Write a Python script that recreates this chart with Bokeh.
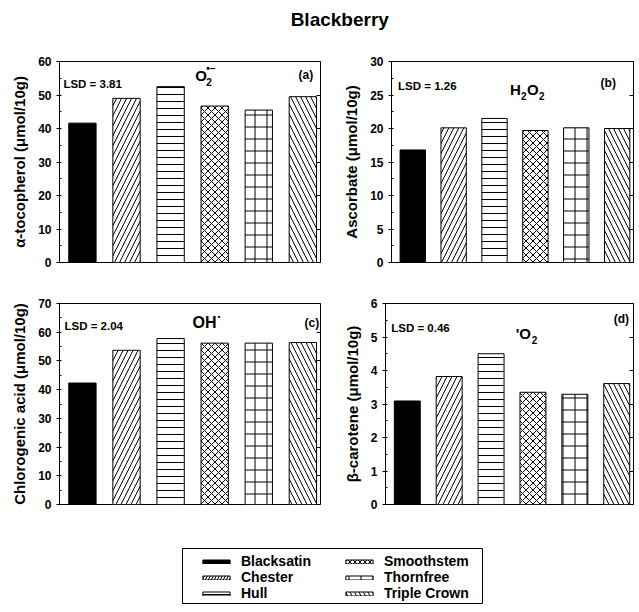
from bokeh.plotting import figure
from bokeh.models import (ColumnDataSource, Range1d, LinearAxis, SingleIntervalTicker,
                          Label, Legend, LegendItem, Spacer, CustomJSTickFormatter)
from bokeh.layouts import row, column
from bokeh.core.properties import field
from bokeh.embed import file_html
from bokeh.resources import INLINE

# ---------------- data ----------------
cultivars = ["Blacksatin", "Chester", "Hull", "Smoothstem", "Thornfree", "Triple Crown"]
tocopherol = [41.6, 49.0, 52.5, 46.7, 45.5, 49.5]
ascorbate = [16.8, 20.1, 21.5, 19.7, 20.1, 20.0]
chlorogenic = [42.3, 53.7, 57.8, 56.2, 56.2, 56.4]
carotene = [3.09, 3.82, 4.50, 3.35, 3.29, 3.61]
lsd_values = ["3.81", "1.26", "2.04", "0.46"]
y_max = [60, 30, 70, 6]
y_step = [10, 5, 10, 1]
y_titles = ["α-tocopherol (μmol/10g)", "Ascorbate (μmol/10g)",
            "Chlorogenic acid (μmol/10g)", "β-carotene (μmol/10g)"]
panel_tags = ["(a)", "(b)", "(c)", "(d)"]
chart_title = "Blackberry"

# ---------------- styles ----------------
hatches = [" ", "/", "-", "x", "+", "\\"]
fills = ["black", "white", "white", "white", "white", "white"]
bar_hatch_scales = [12, 10, 7, 7, 12, 10]
legend_hatch_scales = [12, 6, 5, 5, 12, 9]
FONT = "Liberation Sans"
XR = (0.48, 6.4)


def pos(fx, fy, ymax):
    """position as fraction of the frame (from left, from top) -> data coords"""
    return XR[0] + fx * (XR[1] - XR[0]), ymax * (1 - fy)


def add_text(p, txt, fx, fy, ymax, size, xo=0, yo=0, bold=True):
    x, y = pos(fx, fy, ymax)
    p.add_layout(Label(x=x, y=y, text=txt, x_offset=xo, y_offset=yo,
                       text_font=FONT, text_font_size=f"{size}px",
                       text_font_style="bold" if bold else "normal",
                       text_align="left", text_baseline="middle", text_color="black"))


def make_panel(vals, ymax, step, ytitle, is_left, is_top):
    mbl = 51 if is_left else 36
    mbr = 20 if is_left else 3
    fw = 261 if is_left else 257
    mbt = 13 if is_top else 20
    mbb = 21 if is_top else 26
    p = figure(width=mbl + fw + mbr, height=mbt + 201 + mbb,
               x_range=Range1d(*XR), y_range=Range1d(0, ymax),
               output_backend="svg", toolbar_location=None, x_axis_location=None,
               min_border_left=mbl, min_border_right=mbr,
               min_border_top=mbt, min_border_bottom=mbb)
    p.grid.visible = False
    p.outline_line_color = "black"
    p.outline_line_width = 1
    p.background_fill_color = "white"

    ax = p.yaxis[0]
    ax.ticker = SingleIntervalTicker(interval=step, num_minor_ticks=2)
    ax.axis_label = ytitle
    ax.axis_label_text_font = FONT
    ax.axis_label_text_font_style = "bold"
    ax.axis_label_text_font_size = "15px"
    ax.axis_label_text_color = "black"
    ax.axis_label_standoff = 7
    ax.major_label_text_font = FONT
    ax.major_label_text_font_style = "bold"
    ax.major_label_text_font_size = "12px"
    ax.major_label_text_color = "black"
    ax.major_label_standoff = 5
    ax.major_tick_out = 3
    ax.major_tick_in = 0
    ax.minor_tick_in = 2
    ax.minor_tick_out = 0
    ax.axis_line_color = "black"
    ax.major_tick_line_color = "black"
    ax.minor_tick_line_color = "black"

    rax = LinearAxis(ticker=SingleIntervalTicker(interval=step, num_minor_ticks=0),
                     formatter=CustomJSTickFormatter(code="return ''"),
                     major_tick_in=4, major_tick_out=0,
                     minor_tick_in=0, minor_tick_out=0, minor_tick_line_color=None,
                     major_label_standoff=0,
                     axis_line_color=None, major_tick_line_color="black")
    p.add_layout(rax, "right")

    src = ColumnDataSource(dict(x=list(range(1, len(cultivars) + 1)), top=vals,
                                name=cultivars, fill=fills, hatch=hatches,
                                hs=bar_hatch_scales))
    p.vbar(x="x", top="top", bottom=0, width=0.62, source=src,
           fill_color=field("fill"), line_color="black", line_width=1,
           hatch_pattern=field("hatch"), hatch_scale=field("hs"),
           hatch_color="black", hatch_weight=1)
    return p


pa = make_panel(tocopherol, y_max[0], y_step[0], y_titles[0], True, True)
pb = make_panel(ascorbate, y_max[1], y_step[1], y_titles[1], False, True)
pc = make_panel(chlorogenic, y_max[2], y_step[2], y_titles[2], True, False)
pd = make_panel(carotene, y_max[3], y_step[3], y_titles[3], False, False)

# LSD labels and panel tags
add_text(pa, "LSD = " + lsd_values[0], 0.015, 0.11, y_max[0], 11.5)
add_text(pb, "LSD = " + lsd_values[1], 0.027, 0.124, y_max[1], 11.5)
add_text(pc, "LSD = " + lsd_values[2], 0.019, 0.11, y_max[2], 11.5)
add_text(pd, "LSD = " + lsd_values[3], 0.023, 0.124, y_max[3], 11.5)
add_text(pa, panel_tags[0], 0.916, 0.065, y_max[0], 12)
add_text(pb, panel_tags[1], 0.864, 0.109, y_max[1], 12)
add_text(pc, panel_tags[2], 0.939, 0.095, y_max[2], 12)
add_text(pd, panel_tags[3], 0.92, 0.075, y_max[3], 12)

# species formulas
add_text(pa, "O", 0.52, 0.07, y_max[0], 15)
add_text(pa, "2", 0.52, 0.07, y_max[0], 10, xo=11, yo=-6)
add_text(pa, "•−", 0.52, 0.07, y_max[0], 10, xo=11, yo=7)

add_text(pb, "H", 0.49, 0.14, y_max[1], 15)
add_text(pb, "2", 0.49, 0.14, y_max[1], 10, xo=11, yo=-6)
add_text(pb, "O", 0.49, 0.14, y_max[1], 15, xo=17)
add_text(pb, "2", 0.49, 0.14, y_max[1], 10, xo=29, yo=-6)

add_text(pc, "OH", 0.51, 0.095, y_max[2], 16)
add_text(pc, "•", 0.51, 0.095, y_max[2], 8, xo=25, yo=6)

add_text(pd, "'O", 0.525, 0.15, y_max[3], 15)
add_text(pd, "2", 0.525, 0.15, y_max[3], 10, xo=16, yo=-6)

# title
tf = figure(width=625, height=40, x_range=Range1d(0, 1), y_range=Range1d(0, 1),
            output_backend="svg", toolbar_location=None,
            x_axis_location=None, y_axis_location=None, min_border=0)
tf.grid.visible = False
tf.outline_line_color = None
tf.add_layout(Label(x=0.53, y=0.72, text=chart_title, text_font=FONT,
                    text_font_style="bold", text_font_size="19px", text_color="black",
                    text_align="center", text_baseline="middle"))

# legend (keys drawn from a hidden renderer over the cultivar list)
lf = figure(width=302, height=57, x_range=Range1d(0, 1), y_range=Range1d(0, 1),
            output_backend="svg", toolbar_location=None,
            x_axis_location=None, y_axis_location=None, min_border=1)
lf.grid.visible = False
lf.outline_line_color = "black"
lf.outline_line_width = 1
leg_src = ColumnDataSource(dict(x=list(range(1, len(cultivars) + 1)), top=tocopherol,
                                name=cultivars, fill=fills, hatch=hatches,
                                hs=legend_hatch_scales))
leg_r = lf.vbar(x="x", top="top", width=0.5, source=leg_src, fill_color=field("fill"),
                line_color="black", line_width=1, hatch_pattern=field("hatch"),
                hatch_scale=field("hs"), hatch_color="black", hatch_weight=1)
leg_r.visible = False
items = [LegendItem(label=name, renderers=[leg_r], index=i) for i, name in enumerate(cultivars)]
legend = Legend(items=items, ncols=2, orientation="vertical", location=(17, 2),
                glyph_width=34, glyph_height=5, label_standoff=8, label_width=101,
                label_height=13, spacing=-1, padding=0, margin=0,
                border_line_color=None, background_fill_alpha=0,
                inactive_fill_alpha=0,
                label_text_font=FONT, label_text_font_style="bold",
                label_text_font_size="14px", label_text_color="black")
lf.add_layout(legend, "center")

inner = column(tf, row(pa, pb), row(pc, pd),
               column(Spacer(height=17), row(Spacer(width=173), lf)))
layout = column(Spacer(height=8), row(Spacer(width=8), inner))

open("out.html", "w").write(file_html(layout, INLINE))
